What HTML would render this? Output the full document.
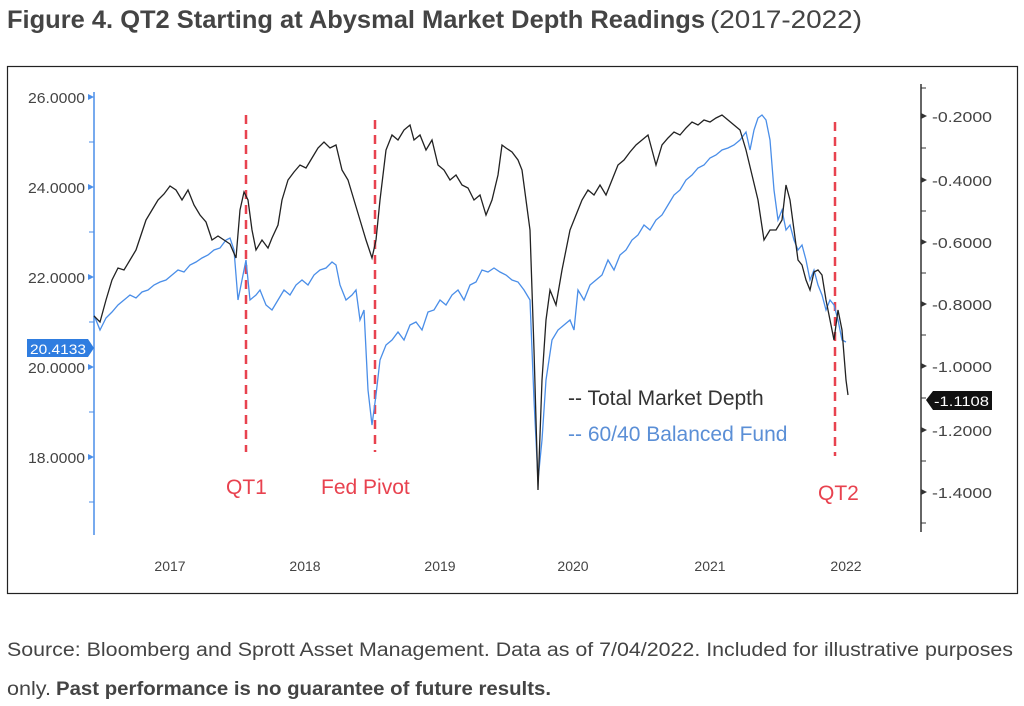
<!DOCTYPE html>
<html><head><meta charset="utf-8"><style>
body{margin:0;background:#fff;width:1024px;height:706px;overflow:hidden}
svg{display:block}
text{font-family:"Liberation Sans",sans-serif}
</style></head><body>
<svg width="1024" height="706" viewBox="0 0 1024 706">
<text x="7" y="28" font-size="25" font-weight="bold" fill="#444" textLength="698" lengthAdjust="spacingAndGlyphs">Figure 4. QT2 Starting at Abysmal Market Depth Readings</text>
<text x="710" y="28" font-size="25" fill="#444" textLength="152" lengthAdjust="spacingAndGlyphs">(2017-2022)</text>
<rect x="7.5" y="66.5" width="1010" height="527" fill="#fff" stroke="#222" stroke-width="1.2"/>
<line x1="94" y1="92" x2="94" y2="535" stroke="#4a8ee8" stroke-width="1.5"/>
<g fill="#4a8ee8">
<polygon points="94,97 88,94 88,100"/><polygon points="94,187 88,184 88,190"/><polygon points="94,277 88,274 88,280"/><polygon points="94,367 88,364 88,370"/><polygon points="94,457 88,454 88,460"/>
</g>
<g stroke="#4a8ee8" stroke-width="1"><line x1="89" y1="142" x2="94" y2="142"/><line x1="89" y1="232" x2="94" y2="232"/><line x1="89" y1="322" x2="94" y2="322"/><line x1="89" y1="412" x2="94" y2="412"/><line x1="89" y1="502" x2="94" y2="502"/></g>
<g font-size="15" fill="#444">
<text x="28" y="103" textLength="57" lengthAdjust="spacingAndGlyphs">26.0000</text><text x="28" y="193" textLength="57" lengthAdjust="spacingAndGlyphs">24.0000</text><text x="28" y="283" textLength="57" lengthAdjust="spacingAndGlyphs">22.0000</text><text x="28" y="373" textLength="57" lengthAdjust="spacingAndGlyphs">20.0000</text><text x="28" y="463" textLength="57" lengthAdjust="spacingAndGlyphs">18.0000</text>
</g>
<polygon points="27,339 88,339 94,348 88,357 27,357" fill="#2f7de0"/>
<text x="30" y="354" font-size="14" fill="#fff" textLength="56" lengthAdjust="spacingAndGlyphs">20.4133</text>
<line x1="921" y1="84" x2="921" y2="532" stroke="#333" stroke-width="1.5"/>
<g fill="#333">
<polygon points="927,116 921,113 921,119"/><polygon points="927,180 921,177 921,183"/><polygon points="927,242 921,239 921,245"/><polygon points="927,304 921,301 921,307"/><polygon points="927,366 921,363 921,369"/><polygon points="927,430 921,427 921,433"/><polygon points="927,492 921,489 921,495"/>
</g>
<g stroke="#333"><line x1="921" y1="148" x2="926" y2="148"/><line x1="921" y1="211" x2="926" y2="211"/><line x1="921" y1="273" x2="926" y2="273"/><line x1="921" y1="335" x2="926" y2="335"/><line x1="921" y1="398" x2="926" y2="398"/><line x1="921" y1="461" x2="926" y2="461"/><line x1="921" y1="523" x2="926" y2="523"/><line x1="921" y1="88" x2="926" y2="88"/></g>
<g font-size="15" fill="#444">
<text x="932" y="122" textLength="60" lengthAdjust="spacingAndGlyphs">-0.2000</text><text x="932" y="186" textLength="60" lengthAdjust="spacingAndGlyphs">-0.4000</text><text x="932" y="248" textLength="60" lengthAdjust="spacingAndGlyphs">-0.6000</text><text x="932" y="310" textLength="60" lengthAdjust="spacingAndGlyphs">-0.8000</text><text x="932" y="372" textLength="60" lengthAdjust="spacingAndGlyphs">-1.0000</text><text x="932" y="436" textLength="60" lengthAdjust="spacingAndGlyphs">-1.2000</text><text x="932" y="498" textLength="60" lengthAdjust="spacingAndGlyphs">-1.4000</text>
</g>
<polygon points="926,400 933,391 992,391 992,410 933,410" fill="#111"/>
<text x="934" y="406" font-size="14" fill="#fff" textLength="55" lengthAdjust="spacingAndGlyphs">-1.1108</text>
<g font-size="14" fill="#444" text-anchor="middle">
<text x="170" y="571">2017</text><text x="305" y="571">2018</text><text x="440" y="571">2019</text><text x="573" y="571">2020</text><text x="710" y="571">2021</text><text x="846" y="571">2022</text>
</g>
<g stroke="#e8424f" stroke-width="2.5" stroke-dasharray="9,6">
<line x1="246" y1="115" x2="246" y2="452"/><line x1="375" y1="120" x2="375" y2="452"/><line x1="835" y1="122" x2="835" y2="456"/>
</g>
<g font-size="21" fill="#e8424f">
<text x="226" y="494">QT1</text><text x="321" y="494">Fed Pivot</text><text x="818" y="500">QT2</text>
</g>
<polyline fill="none" stroke="#4a8ee8" stroke-width="1.3" points="94,315 100,330 106,318 112,312 118,305 124,300 130,295 136,298 142,292 148,290 154,285 160,282 166,280 172,275 178,270 184,272 190,265 196,262 202,258 208,255 214,250 220,248 226,240 230,238 234,250 238,300 242,280 246,260 250,300 256,295 260,290 266,305 272,310 278,300 284,290 290,295 296,285 302,280 308,285 314,275 320,270 326,268 332,262 336,265 340,285 346,300 352,295 356,290 360,320 364,310 368,390 372,425 376,395 380,360 386,345 392,340 398,332 404,340 410,325 416,322 422,330 428,312 434,310 440,300 446,305 452,295 458,290 464,300 470,285 476,282 482,270 488,272 494,268 500,272 506,275 512,280 518,282 524,290 530,300 534,400 538,480 542,440 546,380 552,340 558,330 564,325 570,320 574,330 578,290 584,300 590,285 596,280 602,275 608,260 614,270 620,255 626,250 632,240 638,235 644,225 650,230 656,220 662,215 668,205 674,195 680,190 686,180 692,175 698,168 704,165 710,158 716,155 722,150 728,148 734,145 740,140 746,132 750,150 754,130 758,118 762,115 766,120 770,140 774,190 778,220 782,210 786,230 790,225 794,240 798,250 802,245 806,260 810,280 814,270 818,285 822,295 826,310 830,300 834,305 838,320 842,340 846,342"/>
<polyline fill="none" stroke="#222" stroke-width="1.3" points="94,316 100,322 106,300 112,280 118,268 124,270 130,260 136,250 140,238 146,220 152,210 158,200 164,194 170,186 176,190 182,200 188,190 194,205 200,215 206,222 212,240 218,236 224,240 230,244 236,258 240,210 244,192 248,200 252,230 256,250 262,240 268,248 272,238 278,225 282,200 288,180 294,172 300,165 306,168 312,158 318,148 324,142 330,148 336,145 342,170 348,180 354,200 360,220 366,240 372,258 376,240 380,200 386,150 392,135 398,140 404,130 410,125 414,140 420,135 426,150 432,140 438,165 444,170 450,180 456,175 462,185 468,188 474,200 480,195 486,215 492,200 498,175 502,145 506,148 512,152 518,160 522,170 526,200 530,230 534,350 538,490 542,380 546,320 550,290 556,305 562,270 566,250 570,230 576,215 582,200 588,190 594,195 600,185 606,195 612,180 618,165 624,160 630,152 636,145 642,140 648,135 652,150 656,165 662,145 668,138 674,132 680,135 686,128 692,122 698,125 704,120 710,122 716,118 722,115 728,120 734,125 740,130 746,150 752,175 758,200 764,240 770,230 776,230 782,220 786,185 790,200 794,230 798,260 802,265 806,280 810,290 814,272 818,270 822,275 826,300 830,320 834,340 838,310 842,330 846,380 848,395"/>
<text x="568" y="405" font-size="21" fill="#333">-- Total Market Depth</text>
<text x="568" y="441" font-size="21" fill="#5b8fd6">-- 60/40 Balanced Fund</text>
<text x="7" y="656" font-size="19" fill="#444" textLength="1006" lengthAdjust="spacingAndGlyphs">Source: Bloomberg and Sprott Asset Management. Data as of 7/04/2022. Included for illustrative purposes</text>
<text x="7" y="695" font-size="19" fill="#444" textLength="44" lengthAdjust="spacingAndGlyphs">only.</text>
<text x="56" y="695" font-size="19" font-weight="bold" fill="#444" textLength="495" lengthAdjust="spacingAndGlyphs">Past performance is no guarantee of future results.</text>
</svg>
</body></html>
